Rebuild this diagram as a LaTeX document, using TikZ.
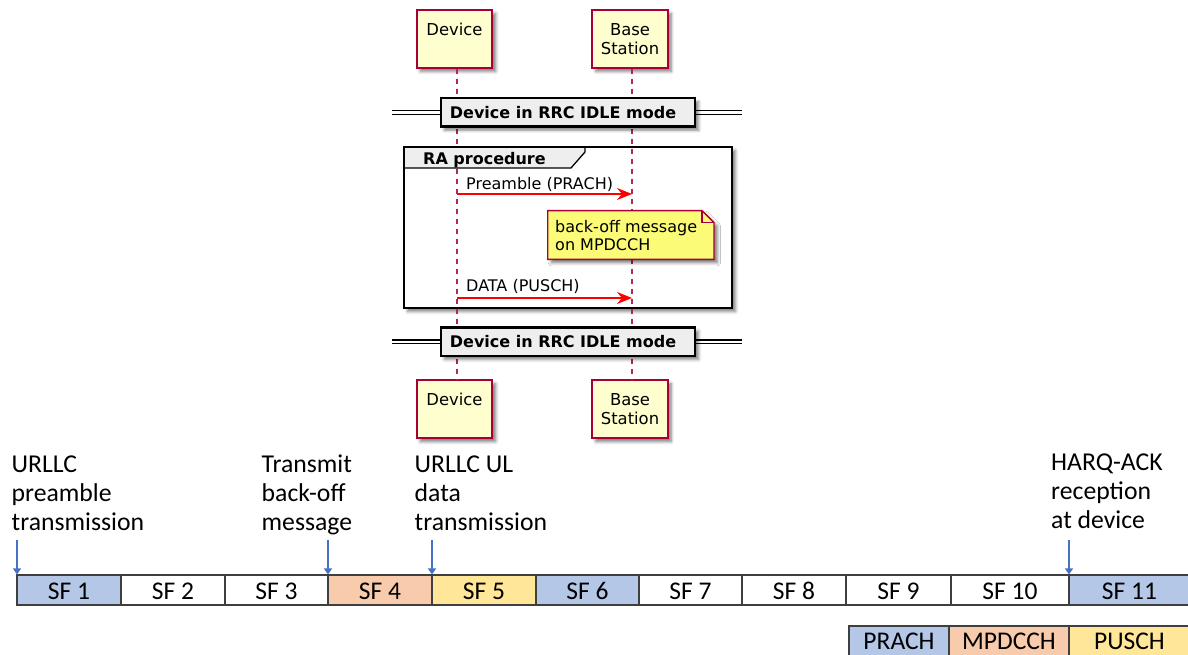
\documentclass[tikz,border=0pt]{standalone}
\usepackage{fontspec}
\setmainfont{DejaVu Sans}
\newfontfamily\calfont{Carlito}
\usetikzlibrary{arrows.meta,shadows.blur}

\definecolor{pumlRed}{HTML}{A80036}
\definecolor{pumlFill}{HTML}{FEFECE}
\definecolor{noteFill}{HTML}{FBFB77}
\definecolor{divFill}{HTML}{EEEEEE}
\definecolor{msgRed}{HTML}{FF0000}
\definecolor{sfBlue}{HTML}{B4C7E7}
\definecolor{sfOrange}{HTML}{F8CBAD}
\definecolor{sfYellow}{HTML}{FFE699}
\definecolor{cueBlue}{HTML}{4472C4}
\definecolor{cellLine}{HTML}{3F3F3F}

\begin{document}
\begin{tikzpicture}[x=1pt,y=-1pt,
  every node/.style={inner sep=0pt},
  pfont/.style={font=\fontsize{16}{19}\selectfont},
  softshadow/.style={blur shadow={shadow xshift=3.5pt,shadow yshift=-3.5pt,
      shadow blur radius=3pt,shadow opacity=50}},
  participant/.style={draw=pumlRed,line width=1.8pt,fill=pumlFill,
      minimum width=75.5pt,minimum height=58pt,align=center,
      font=\fontsize{16.4}{19}\selectfont,softshadow},
  lifeline/.style={draw=pumlRed!85,line width=1.2pt,dash pattern=on 5pt off 5pt},
  divider/.style={draw=black,line width=2.4pt,fill=divFill,
      minimum width=254pt,minimum height=28.4pt,
      font=\bfseries\fontsize{16}{19}\selectfont,softshadow},
  divline/.style={draw=black,line width=1.3pt},
  raback/.style={fill=white,minimum width=328pt,minimum height=161pt,
      outer sep=0pt,softshadow},
  raframe/.style={draw=black,line width=2.8pt},
  tabline/.style={draw=black,line width=1.3pt,fill=divFill},
  notebox/.style={draw=pumlRed,line width=1.4pt,fill=noteFill,softshadow},
  noteline/.style={draw=pumlRed,line width=1.4pt},
  msg/.style={draw=msgRed,line width=1.6pt,
      -{Stealth[length=15pt,width=12pt,inset=5pt]}},
  cell/.style={draw=cellLine,line width=1.6pt,minimum height=29.5pt,
      font=\calfont\fontsize{25.5}{29}\selectfont,
      text height=18.5pt,text depth=0pt},
  legcell/.style={draw=cellLine,line width=1.6pt,minimum height=31pt,
      font=\calfont\fontsize{25.5}{29}\selectfont,
      text height=16.4pt,text depth=0pt},
  callout/.style={align=left,font=\calfont\fontsize{25.7}{28.8}\selectfont},
  cue/.style={draw=cueBlue,line width=1.1pt,-{Triangle[length=6pt,width=8pt]}}
]
\useasboundingbox (0,0) rectangle (1188,655);

% participants, top and bottom
\node[participant] (devTop) at (454.5,39) {Device\\\mbox{}};
\node[participant] (bsTop) at (630,39) {Base\\Station};
\node[participant] (devBot) at (454.5,409.2) {Device\\\mbox{}};
\node[participant] (bsBot) at (630,409.2) {Base\\Station};

% background of the RA group frame
\node[raback] (ra) at (568,227.5) {};

% lifelines
\draw[lifeline] ([xshift=2.5pt]devTop.south) -- ([xshift=2.5pt]devBot.north);
\draw[lifeline] ([xshift=2pt]bsTop.south) -- ([xshift=2pt]bsBot.north);

% state dividers
\foreach \y/\nm in {112.5/idleA, 341.7/idleB} {
  \draw[divline] (392,\y-1.8) -- (742,\y-1.8);
  \draw[divline] (392,\y+1.8) -- (742,\y+1.8);
  \node[divider] (\nm) at (568,\y) {Device in RRC IDLE mode\hspace*{10pt}};
}

% RA group tab and border
\draw[tabline] (ra.north west) -- (585,147) -- (585,152) -- (571,168)
  -- (ra.west |- 0,168) -- cycle;
\node[anchor=base west,font=\bfseries\fontsize{16}{19}\selectfont]
  (raLabel) at (423,165) {RA procedure};
\draw[raframe] (ra.north west) rectangle (ra.south east);

% note with folded corner
\node[minimum width=166.3pt,minimum height=48.6pt,outer sep=0pt] (note) at (630.85,235) {};
\draw[notebox] (note.north west) -- ([xshift=-12pt]note.north east)
  -- ([yshift=-12pt]note.north east) -- (note.south east)
  -- (note.south west) -- cycle;
\draw[noteline] ([xshift=-12pt]note.north east)
  -- ([xshift=-12pt,yshift=-12pt]note.north east)
  -- ([yshift=-12pt]note.north east);
\node[anchor=base west,align=left,font=\fontsize{16}{18.6}\selectfont]
  (noteText) at (555,250.9) {back-off message\\on MPDCCH};

% messages
\coordinate (preA) at (457,194);
\coordinate (preB) at (632,194);
\draw[msg] (preA) -- (preB);
\node[anchor=base west,pfont] (preLabel) at (466,189.3) {Preamble (PRACH)};
\coordinate (datA) at (457,298);
\coordinate (datB) at (632,298);
\draw[msg] (datA) -- (datB);
\node[anchor=base west,pfont] (datLabel) at (466,291.7) {DATA (PUSCH)};

% subframe timeline
\foreach \n/\a/\b/\c in {1/17/121/sfBlue, 2/121/225/white, 3/225/328/white,
    4/328/432/sfOrange, 5/432/536/sfYellow, 6/536/639/sfBlue,
    7/639/742/white, 8/742/846/white, 9/846/951/white,
    10/951/1069/white, 11/1069/1190/sfBlue} {
  \node[cell,fill=\c,minimum width={(\b-\a)*1pt}] (sf\n) at ({(\a+\b)/2},590) {SF \n};
}

% legend
\foreach \nm/\a/\b/\c in {PRACH/849/949/sfBlue, MPDCCH/949/1069/sfOrange,
    PUSCH/1069/1190/sfYellow} {
  \node[legcell,fill=\c,minimum width={(\b-\a)*1pt}] (leg\nm) at ({(\a+\b)/2},641.5) {\nm};
}

% event markers
\coordinate (cuePre) at (17,540);
\coordinate (cueBack) at (328,540);
\coordinate (cueData) at (432,540);
\coordinate (cueAck) at (1069,540);
\draw[cue] (cuePre) -- (cuePre |- sf1.north);
\draw[cue] (cueBack) -- (cueBack |- sf4.north);
\draw[cue] (cueData) -- (cueData |- sf5.north);
\draw[cue] (cueAck) -- (cueAck |- sf11.north);

% event captions (base = baseline of the last line)
\node[callout,anchor=base west] (capPre) at (11.5,530.3) {URLLC\\preamble\\transmission};
\node[callout,anchor=base west] (capBack) at (261.5,530.3) {Transmit\\back-off\\message};
\node[callout,anchor=base west] (capData) at (414.5,530.3) {URLLC UL\\data\\transmission};
\node[callout,anchor=base west] (capAck) at (1051,528.1) {HARQ-ACK\\reception\\at device};
\end{tikzpicture}
\end{document}
